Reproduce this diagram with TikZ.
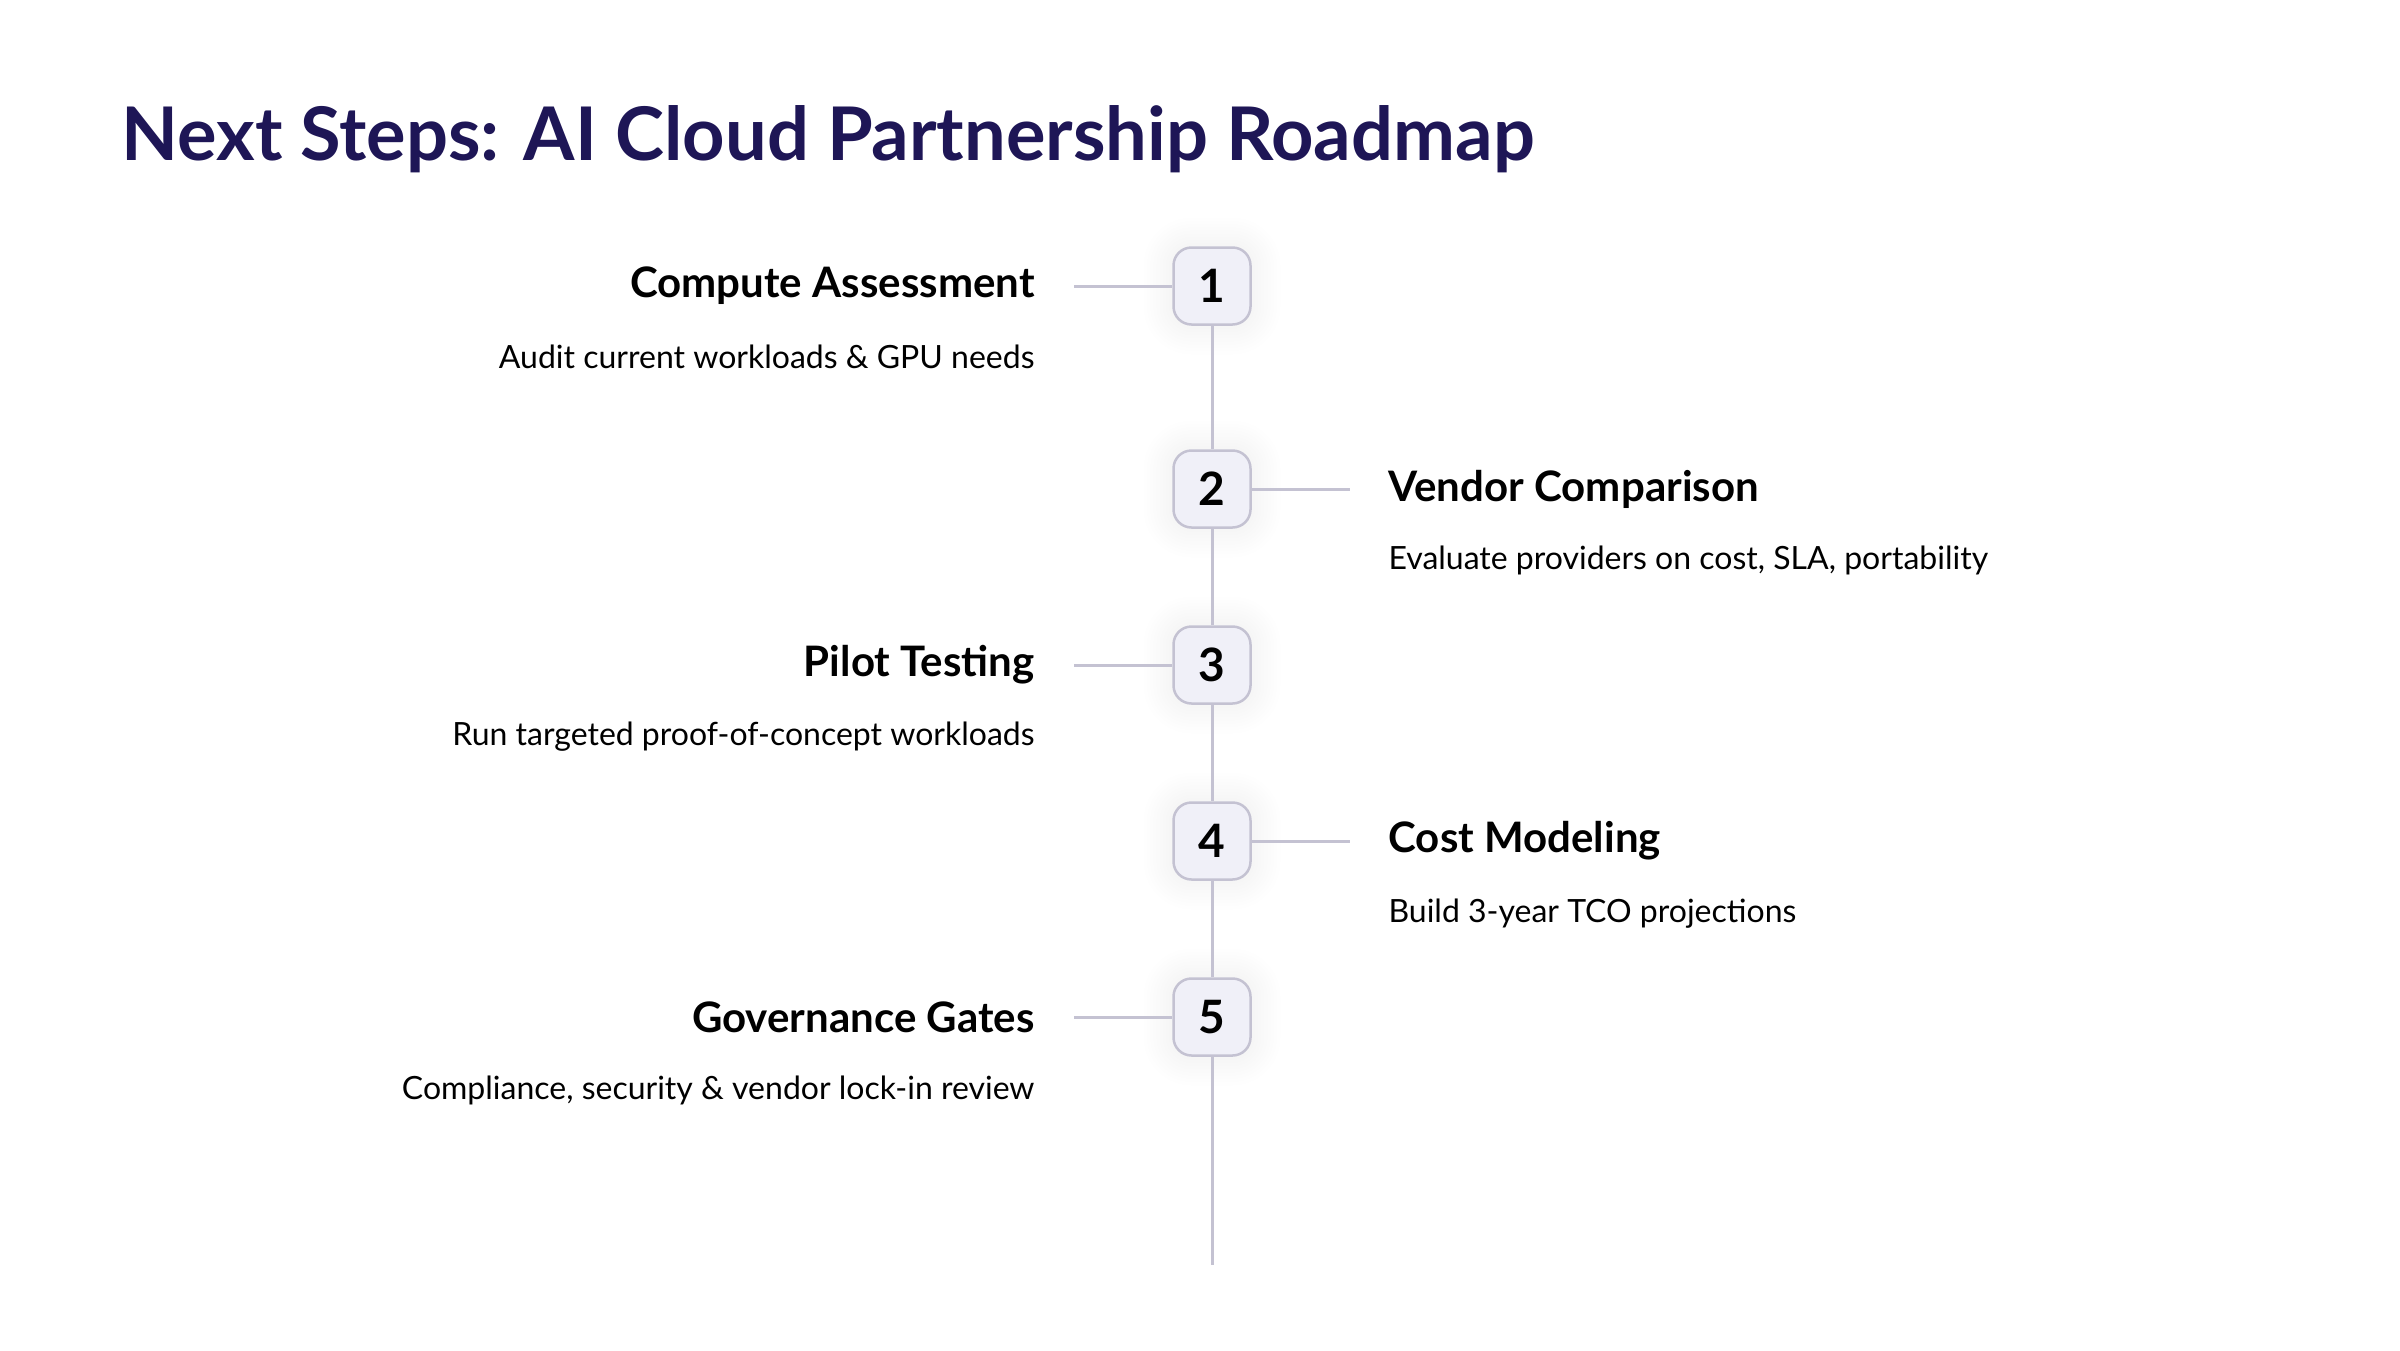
\documentclass[tikz,border=0pt]{standalone}
\usepackage{fontspec}
\setmainfont{Lato}
\usetikzlibrary{shadows.blur}
\definecolor{navy}{HTML}{1E1656}
\definecolor{boxfill}{HTML}{F0F0F8}
\definecolor{boxline}{HTML}{C4C2D2}
\definecolor{linec}{HTML}{C4C2D2}
\begin{document}
\begin{tikzpicture}[x=1pt,y=-1pt,
  box/.style={draw=boxline,line width=2.5pt,fill=boxfill,rounded corners=18pt,minimum size=77pt,inner sep=0pt,font=\fontsize{46}{50}\selectfont\bfseries,blur shadow={shadow blur steps=10,shadow xshift=0pt,shadow yshift=0pt,shadow blur radius=30pt,shadow opacity=8}},
  conn/.style={draw=linec,line width=3pt},
  head/.style={font=\fontsize{42}{48}\selectfont\bfseries},
  desc/.style={font=\fontsize{32}{38}\selectfont}]
\useasboundingbox (0,0) rectangle (2400,1350);
\node[anchor=west,text=navy,font=\fontsize{74}{80}\selectfont\bfseries] (title) at (118,139) {Next Steps: AI Cloud Partnership Roadmap};
\coordinate (bot) at (1212,1265);
\node[box] (b1) at (1212,286) {1};
\node[box] (b2) at (1212,489) {2};
\node[box] (b3) at (1212,665) {3};
\node[box] (b4) at (1212,841) {4};
\node[box] (b5) at (1212,1017) {5};
\begin{scope}[on background layer/.try]
\end{scope}
\coordinate (l1) at (1074,286);
\coordinate (r2) at (1350,489);
\coordinate (l3) at (1074,665);
\coordinate (r4) at (1350,841);
\coordinate (l5) at (1074,1017);
\draw[conn] (b1.south) -- (b2.north);
\draw[conn] (b2.south) -- (b3.north);
\draw[conn] (b3.south) -- (b4.north);
\draw[conn] (b4.south) -- (b5.north);
\draw[conn] (b5.south) -- (bot);
\draw[conn] (l1) -- (b1.west);
\draw[conn] (b2.east) -- (r2);
\draw[conn] (l3) -- (b3.west);
\draw[conn] (b4.east) -- (r4);
\draw[conn] (l5) -- (b5.west);
\node[head,anchor=east] (h1) at (1038,286) {Compute Assessment};
\node[desc,anchor=east] (d1) at (1038,357) {Audit current workloads \& GPU needs};
\node[head,anchor=west] (h2) at (1385,489) {Vendor Comparison};
\node[desc,anchor=west] (d2) at (1385,560) {Evaluate providers on cost, SLA, portability};
\node[head,anchor=east] (h3) at (1038,665) {Pilot Testing};
\node[desc,anchor=east] (d3) at (1038,737) {Run targeted proof-of-concept workloads};
\node[head,anchor=west] (h4) at (1385,841) {Cost Modeling};
\node[desc,anchor=west] (d4) at (1385,914) {Build 3-year TCO projections};
\node[head,anchor=east] (h5) at (1038,1017) {Governance Gates};
\node[desc,anchor=east] (d5) at (1038,1090) {Compliance, security \& vendor lock-in review};
\end{tikzpicture}
\end{document}
